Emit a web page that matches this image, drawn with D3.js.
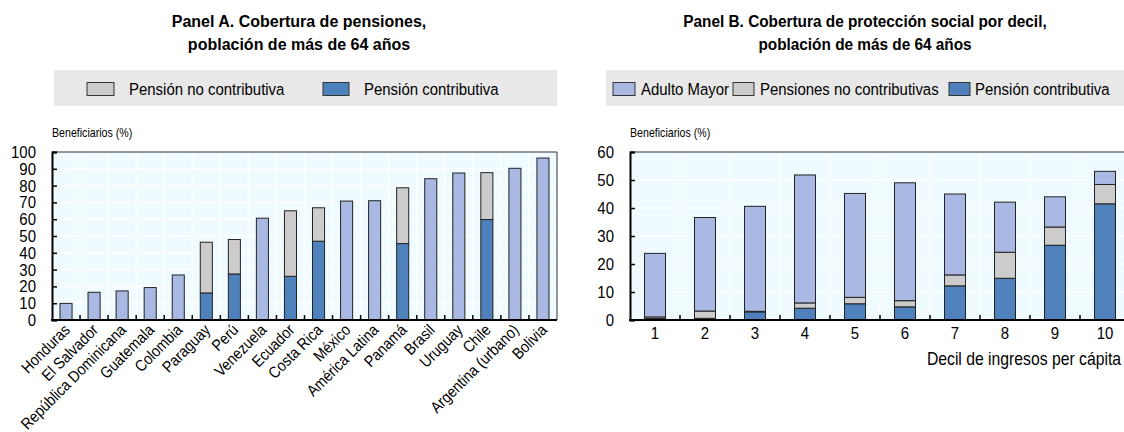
<!DOCTYPE html>
<html>
<head>
<meta charset="utf-8">
<script src="https://cdn.jsdelivr.net/npm/d3@7/dist/d3.min.js"></script>
<style>
  html, body { margin: 0; padding: 0; background: #fff; }
  svg { display: block; }
  text { font-family: "Liberation Sans", Arial, sans-serif; fill: #000; }
</style>
</head>
<body>
<svg id="chart" width="1124" height="432"></svg>
<script>
// ---------- Panel A data ----------
const paisesA = ["Honduras", "El Salvador", "República Dominicana", "Guatemala", "Colombia",
  "Paraguay", "Perú", "Venezuela", "Ecuador", "Costa Rica", "México", "América Latina",
  "Panamá", "Brasil", "Uruguay", "Chile", "Argentina (urbano)", "Bolivia"];
// contributory pension (only where the breakdown is available)
const contributivaA = [0, 0, 0, 0, 0, 16.1, 27.4, 0, 26.0, 46.9, 0, 0, 45.5, 0, 0, 59.8, 0, 0];
// non-contributory pension (segment on top of the contributory one)
const noContributivaA = [0, 0, 0, 0, 0, 30.2, 20.5, 0, 39.0, 19.9, 0, 0, 33.2, 0, 0, 27.9, 0, 0];
// total coverage where no breakdown is available
const totalSinDesgloseA = [9.9, 16.5, 17.3, 19.3, 26.8, 0, 0, 60.6, 0, 0, 70.8, 71.0, 0, 84.1, 87.5, 0, 90.3, 96.4];
const ticksA = [0, 10, 20, 30, 40, 50, 60, 70, 80, 90, 100];

// ---------- Panel B data ----------
const decilesB = ["1", "2", "3", "4", "5", "6", "7", "8", "9", "10"];
const contributivaB = [0.5, 0.6, 2.9, 4.2, 5.8, 4.7, 12.2, 14.9, 26.7, 41.5];
const noContributivaB = [0.6, 2.6, 0.2, 1.9, 2.3, 2.2, 3.9, 9.3, 6.5, 6.9];
const adultoMayorB = [22.7, 33.4, 37.5, 45.7, 37.1, 42.1, 28.9, 17.9, 10.8, 4.7];
const ticksB = [0, 10, 20, 30, 40, 50, 60];

// ---------- styles ----------
const C_LIGHT = "#a9b9e3";
const C_DARK = "#4f81bd";
const C_GREY = "#cccccc";
const C_BG = "#f0fbff";
const C_STROKE = "#222";
const NARROW = 0.88;

const svg = d3.select("#chart");

// condensed text helper
function ntext(parent, x, y, str, size, anchor, sx) {
  return parent.append("text")
    .attr("transform", `translate(${x},${y}) scale(${sx || NARROW},1)`)
    .attr("dy", "0.35em")
    .attr("text-anchor", anchor || "start")
    .attr("font-size", size)
    .text(str);
}

function panel(opts) {
  const g = svg.append("g");
  const { x0, x1, y0, y1, cats, layers, yMax, ticks, padding } = opts;
  const x = d3.scaleBand().domain(cats).range([x0, x1]).paddingInner(padding).paddingOuter(padding / 2);
  const xb = d3.scaleBand().domain(cats).range([x0, x1]);
  const y = d3.scaleLinear().domain([0, yMax]).range([y1, y0]);

  g.append("rect").attr("x", x0).attr("y", y0).attr("width", x1 - x0).attr("height", y1 - y0)
    .attr("fill", C_BG);

  // grid
  g.append("g").selectAll("line").data(ticks.filter(t => t > 0 && t < yMax)).join("line")
    .attr("x1", x0).attr("x2", x1).attr("y1", d => y(d)).attr("y2", d => y(d))
    .attr("stroke", "#fff").attr("stroke-width", 1.2);
  g.append("g").selectAll("line").data(cats.slice(1)).join("line")
    .attr("x1", d => xb(d)).attr("x2", d => xb(d)).attr("y1", y0).attr("y2", y1)
    .attr("stroke", "#fff").attr("stroke-width", 1.2);

  // stacked bars
  const keys = layers.map(l => l.key);
  const rows = cats.map((c, i) => {
    const r = { cat: c };
    layers.forEach(l => { r[l.key] = l.values[i]; });
    return r;
  });
  const stack = d3.stack().keys(keys)(rows);
  stack.forEach((s, li) => {
    g.append("g").selectAll("rect").data(s.filter(d => d[1] - d[0] > 0)).join("rect")
      .attr("x", d => x(d.data.cat))
      .attr("width", x.bandwidth())
      .attr("y", d => y(d[1]))
      .attr("height", d => y(d[0]) - y(d[1]))
      .attr("fill", layers[li].color)
      .attr("stroke", C_STROKE).attr("stroke-width", 1);
  });

  // frame top/right
  g.append("path").attr("d", `M${x0},${y0}H${x1}V${y1}`).attr("fill", "none")
    .attr("stroke", "#333").attr("stroke-width", 1);

  // left axis (ticks inward)
  const ya = d3.axisLeft(y).tickValues(ticks).tickSize(-5).tickFormat("");
  const yg = g.append("g").attr("transform", `translate(${x0},0)`).call(ya);
  yg.select(".domain").attr("stroke", "#000").attr("stroke-width", 2);
  yg.selectAll(".tick line").attr("stroke", "#000").attr("stroke-width", 1.5);
  ticks.forEach(t => ntext(g, x0 - 16, y(t), d3.format("d")(t), 17, "end"));

  // bottom axis (ticks between categories, pointing up)
  g.append("line").attr("x1", x0 - 1).attr("x2", x1).attr("y1", y1).attr("y2", y1)
    .attr("stroke", "#000").attr("stroke-width", 2);
  g.append("g").selectAll("line").data(cats.slice(1)).join("line")
    .attr("x1", d => xb(d)).attr("x2", d => xb(d)).attr("y1", y1).attr("y2", y1 - 5)
    .attr("stroke", "#000").attr("stroke-width", 1.5);

  return { g, x, y };
}

// ---------- Titles ----------
function title(cx, lines, sx) {
  ntext(svg, cx, 21, lines[0], 16, "middle", sx).attr("font-weight", "bold");
  ntext(svg, cx, 44, lines[1], 16, "middle", sx).attr("font-weight", "bold");
}
title(299, ["Panel A. Cobertura de pensiones,", "población de más de 64 años"], 1);
title(865, ["Panel B. Cobertura de protección social por decil,", "población de más de 64 años"], 0.96);

// ---------- Legends ----------
function legend(bx, bw, items) {
  svg.append("rect").attr("x", bx).attr("y", 70).attr("width", bw).attr("height", 36).attr("fill", "#e8e8e8");
  items.forEach(it => {
    svg.append("rect").attr("x", it.sx).attr("y", 82.5).attr("width", it.sw).attr("height", 13)
      .attr("fill", it.color).attr("stroke", "#333").attr("stroke-width", 1);
    ntext(svg, it.tx, 89, it.label, 17, "start");
  });
}
legend(54, 503, [
  { sx: 87, sw: 27, tx: 129, color: C_GREY, label: "Pensión no contributiva" },
  { sx: 323, sw: 26, tx: 364, color: C_DARK, label: "Pensión contributiva" }
]);
legend(606, 518, [
  { sx: 613, sw: 22, tx: 641, color: C_LIGHT, label: "Adulto Mayor" },
  { sx: 733, sw: 21, tx: 760, color: C_GREY, label: "Pensiones no contributivas" },
  { sx: 949, sw: 21, tx: 975, color: C_DARK, label: "Pensión contributiva" }
]);

// ---------- Panel A ----------
ntext(svg, 52, 133, "Beneficiarios (%)", 12.5, "start", 0.85);
const pA = panel({
  x0: 52, x1: 557, y0: 152, y1: 320, cats: paisesA, yMax: 100, ticks: ticksA, padding: 0.57,
  layers: [
    { key: "contributiva", values: contributivaA, color: C_DARK },
    { key: "noContributiva", values: noContributivaA, color: C_GREY },
    { key: "total", values: totalSinDesgloseA, color: C_LIGHT }
  ]
});
pA.g.append("g").selectAll("text").data(paisesA).join("text")
  .attr("transform", d => `translate(${pA.x(d) + pA.x.bandwidth() / 2 + 5},${331}) rotate(-45) scale(${NARROW},1)`)
  .attr("text-anchor", "end").attr("font-size", 16).text(d => d);

// ---------- Panel B ----------
ntext(svg, 630, 133, "Beneficiarios (%)", 12.5, "start", 0.85);
const pB = panel({
  x0: 630, x1: 1130, y0: 152, y1: 320, cats: decilesB, yMax: 60, ticks: ticksB, padding: 0.58,
  layers: [
    { key: "contributiva", values: contributivaB, color: C_DARK },
    { key: "noContributiva", values: noContributivaB, color: C_GREY },
    { key: "adultoMayor", values: adultoMayorB, color: C_LIGHT }
  ]
});
decilesB.forEach(d => ntext(pB.g, pB.x(d) + pB.x.bandwidth() / 2, 333, d, 17, "middle"));
ntext(svg, 1121, 359, "Decil de ingresos per cápita", 17.5, "end", 0.9);
</script>
</body>
</html>
